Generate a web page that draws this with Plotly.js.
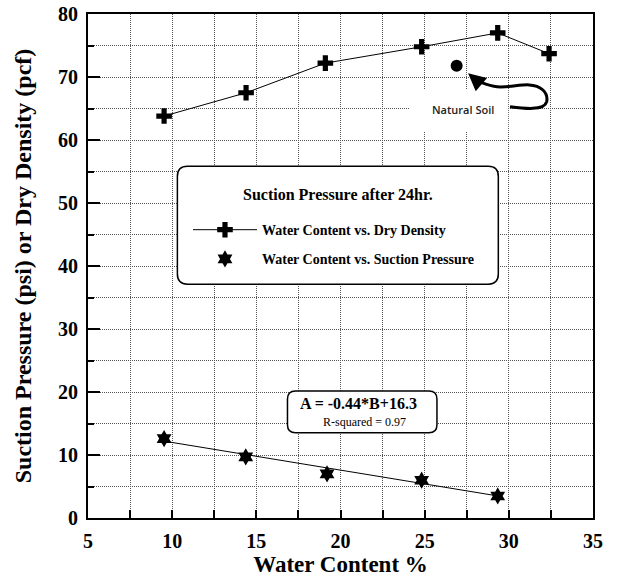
<!DOCTYPE html>
<html>
<head>
<meta charset="utf-8">
<script src="https://cdn.plot.ly/plotly-3.0.1.min.js"></script>
<style>html,body{margin:0;padding:0;background:#fff;}#chart{width:618px;height:578px;}</style>
</head>
<body>
<div id="chart"></div>
<script>
// ---- data ----
const waterContentDensity = [9.52, 14.39, 19.1, 24.82, 29.34, 32.39];
const dryDensity = [63.8, 67.5, 72.2, 74.8, 77.0, 73.7];
const waterContentSuction = [9.52, 14.37, 19.2, 24.82, 29.34];
const suctionPressure = [12.6, 9.7, 7.0, 6.0, 3.5];
const fitX = [9.52, 29.34];
const fitY = [12.2, 3.5];
const naturalSoilX = [26.9];
const naturalSoilY = [71.8];
const seriesNames = ['Water Content vs. Dry Density', 'Water Content vs. Suction Pressure'];
const legendTitle = 'Suction Pressure after 24hr.';
const equationText = 'A = -0.44*B+16.3';
const rSquaredText = 'R-squared = 0.97';

const serif = '"Liberation Serif", serif';

function roundRect(x0, x1, y0, y1, rx, ry) {
  return `M${x0+rx},${y1} H${x1-rx} Q${x1},${y1} ${x1},${y1-ry} V${y0+ry} Q${x1},${y0} ${x1-rx},${y0} H${x0+rx} Q${x0},${y0} ${x0},${y0+ry} V${y1-ry} Q${x0},${y1} ${x0+rx},${y1} Z`;
}

const traces = [
  {
    x: waterContentDensity, y: dryDensity, name: seriesNames[0],
    type: 'scatter', mode: 'lines+markers', legendgroup: 'a',
    line: {color: '#000', width: 1},
    marker: {symbol: 'cross', size: 13, color: '#000'},
    hoverinfo: 'x+y'
  },
  {
    x: waterContentSuction, y: suctionPressure, name: seriesNames[1],
    type: 'scatter', mode: 'markers', legendgroup: 'b',
    marker: {symbol: 'hexagram', size: 13, color: '#000'},
    hoverinfo: 'x+y'
  },
  {
    x: fitX, y: fitY, type: 'scatter', mode: 'lines', showlegend: false,
    line: {color: '#000', width: 1}, hoverinfo: 'skip'
  },
  {
    x: naturalSoilX, y: naturalSoilY, type: 'scatter', mode: 'markers', showlegend: false,
    marker: {symbol: 'circle', size: 12, color: '#000'}, hoverinfo: 'x+y'
  }
];

const gridCol = '#555';
const gridDash = '1px,1px';
const tickFont = {family: serif, size: 20, weight: 700, color: '#000'};
const layout = {
  width: 618, height: 578,
  margin: {l: 88, r: 25, t: 14, b: 60},
  paper_bgcolor: '#fff', plot_bgcolor: '#fff',
  font: {family: serif, color: '#000'},
  xaxis: {
    range: [5, 35], tick0: 5, dtick: 5, ticks: 'inside', ticklen: 8, tickwidth: 2, tickcolor: '#000',
    showline: true, linewidth: 2, linecolor: '#000', mirror: true,
    showgrid: true, gridcolor: gridCol, gridwidth: 1, griddash: gridDash,
    minor: {dtick: 2.5, ticks: 'inside', ticklen: 8, tickwidth: 2, tickcolor: '#000', showgrid: true, gridcolor: gridCol, gridwidth: 1, griddash: gridDash},
    zeroline: false, automargin: false,
    tickfont: tickFont,
    ticklabelstandoff: 4,
    title: {text: 'Water Content %', font: {family: serif, size: 23, weight: 700, color: '#000'}, standoff: 4}
  },
  yaxis: {
    range: [0, 80], tick0: 0, dtick: 10, ticks: 'inside', ticklen: 12, tickwidth: 2, tickcolor: '#000',
    showline: true, linewidth: 2, linecolor: '#000', mirror: true,
    showgrid: true, gridcolor: gridCol, gridwidth: 1, griddash: gridDash,
    minor: {dtick: 5, ticks: 'inside', ticklen: 6, tickwidth: 2, tickcolor: '#000', showgrid: true, gridcolor: gridCol, gridwidth: 1, griddash: gridDash},
    zeroline: false, automargin: false,
    tickfont: tickFont,
    ticklabelstandoff: 4,
    title: {text: 'Suction Pressure (psi) or Dry Density (pcf)', font: {family: serif, size: 24, weight: 700, color: '#000'}, standoff: 20}
  },
  showlegend: true,
  legend: {
    x: 0.198, y: 0.603, xanchor: 'left', yanchor: 'top', xref: 'paper', yref: 'paper',
    bgcolor: 'rgba(0,0,0,0)', borderwidth: 0,
    font: {family: serif, size: 14, weight: 700, color: '#000'},
    itemwidth: 64, tracegroupgap: 8
  },
  shapes: [
    {type: 'path', xref: 'paper', yref: 'paper', layer: 'above',
     path: roundRect(0.177, 0.8125, 0.464, 0.698, 0.02, 0.02),
     fillcolor: '#fff', line: {color: '#000', width: 1.5}},
    {type: 'path', xref: 'paper', yref: 'paper', layer: 'above',
     path: roundRect(0.395, 0.691, 0.169, 0.252, 0.016, 0.016),
     fillcolor: '#fff', line: {color: '#000', width: 1.5}},
    {type: 'rect', xref: 'paper', yref: 'paper', layer: 'above',
     x0: 0.636, x1: 0.832, y0: 0.766, y1: 0.851,
     fillcolor: '#fff', line: {width: 0}},
    {type: 'path', xref: 'x', yref: 'y', layer: 'above',
     path: 'M30.07,65.29 C30.9,65.0 32.1,64.6 32.25,66.1 C32.35,67.5 31.9,68.7 31.2,68.75 C30.6,68.8 30.0,68.3 29.3,68.45 C28.9,68.55 28.6,68.9 28.2,69.3',
     line: {color: '#000', width: 3}}
  ],
  annotations: [
    {xref: 'paper', yref: 'paper', x: 0.495, y: 0.641, xanchor: 'center', yanchor: 'middle',
     text: legendTitle, showarrow: false,
     font: {family: serif, size: 16, weight: 700, color: '#000'}},
    {xref: 'paper', yref: 'paper', x: 0.7426, y: 0.8115, xanchor: 'center', yanchor: 'middle',
     text: 'Natural Soil', showarrow: false,
     font: {family: 'Open Sans, sans-serif', size: 11, weight: 600, color: '#222'}},
    {xref: 'x', yref: 'y', x: 27.58, y: 70.6, text: '', showarrow: true, axref: 'pixel', ayref: 'pixel',
     ax: 14, ay: 12, arrowhead: 2, arrowsize: 1.4, arrowwidth: 2.5, arrowcolor: '#000', standoff: 0},
    {xref: 'paper', yref: 'paper', x: 0.5347, y: 0.2262, xanchor: 'center', yanchor: 'middle',
     text: equationText, showarrow: false,
     font: {family: serif, size: 16, weight: 700, color: '#000'}},
    {xref: 'paper', yref: 'paper', x: 0.5485, y: 0.1905, xanchor: 'center', yanchor: 'middle',
     text: rSquaredText, showarrow: false,
     font: {family: serif, size: 12, color: '#000'}}
  ]
};

Plotly.newPlot('chart', traces, layout, {displayModeBar: false, staticPlot: true});
</script>
</body>
</html>
